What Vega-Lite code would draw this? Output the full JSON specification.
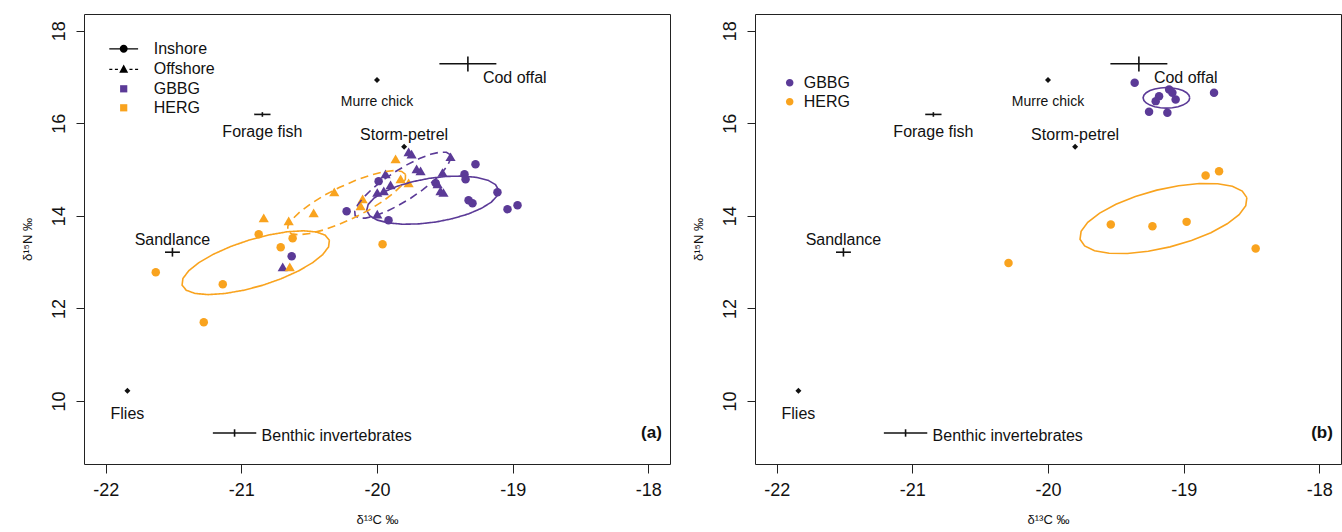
{
  "$schema": "https://vega.github.io/schema/vega-lite/v6.json",
  "background": "white",
  "padding": {"left": 20, "top": 13, "right": 2, "bottom": 4},
  "config": {
    "font": "Liberation Sans",
    "view": {"stroke": "#222", "strokeWidth": 1},
    "axis": {"grid": false, "domain": false, "ticks": true, "tickColor": "#222", "tickWidth": 1, "labelFont": "Liberation Sans", "labelFontSize": 18, "labelColor": "#111", "titleFont": "Liberation Sans", "titleFontSize": 13, "titleFontWeight": "normal", "titleColor": "#111", "labelPadding": 8, "labelFlush": false, "labelOverlap": false},
    "axisX": {"tickSize": 9, "titlePadding": 14},
    "axisY": {"tickSize": 8, "labelAngle": -90, "labelAlign": "center", "labelBaseline": "bottom", "titlePadding": 16},
    "legend": {"labelFont": "Liberation Sans", "labelFontSize": 16, "labelColor": "#111", "title": null, "padding": 0}
  },
  "spacing": 20,
  "resolve": {"scale": {"fill": "independent", "stroke": "independent", "shape": "independent", "strokeDash": "independent"}, "legend": {"fill": "independent", "shape": "independent"}},
  "datasets": {
    "birds": [
      {"panel": "a", "species": "GBBG", "habitat": "Inshore", "x": -19.274, "y": 15.117},
      {"panel": "a", "species": "GBBG", "habitat": "Inshore", "x": -19.355, "y": 14.901},
      {"panel": "a", "species": "GBBG", "habitat": "Inshore", "x": -19.347, "y": 14.793},
      {"panel": "a", "species": "GBBG", "habitat": "Inshore", "x": -19.112, "y": 14.51},
      {"panel": "a", "species": "GBBG", "habitat": "Inshore", "x": -19.325, "y": 14.339},
      {"panel": "a", "species": "GBBG", "habitat": "Inshore", "x": -19.296, "y": 14.274},
      {"panel": "a", "species": "GBBG", "habitat": "Inshore", "x": -19.038, "y": 14.144},
      {"panel": "a", "species": "GBBG", "habitat": "Inshore", "x": -18.964, "y": 14.231},
      {"panel": "a", "species": "GBBG", "habitat": "Inshore", "x": -19.568, "y": 14.707},
      {"panel": "a", "species": "GBBG", "habitat": "Inshore", "x": -20.224, "y": 14.101},
      {"panel": "a", "species": "GBBG", "habitat": "Inshore", "x": -19.915, "y": 13.906},
      {"panel": "a", "species": "GBBG", "habitat": "Inshore", "x": -19.988, "y": 14.75},
      {"panel": "a", "species": "GBBG", "habitat": "Inshore", "x": -20.629, "y": 13.128},
      {"panel": "a", "species": "GBBG", "habitat": "Offshore", "x": -19.767, "y": 15.376},
      {"panel": "a", "species": "GBBG", "habitat": "Offshore", "x": -19.745, "y": 15.326},
      {"panel": "a", "species": "GBBG", "habitat": "Offshore", "x": -19.458, "y": 15.27},
      {"panel": "a", "species": "GBBG", "habitat": "Offshore", "x": -19.708, "y": 15.009},
      {"panel": "a", "species": "GBBG", "habitat": "Offshore", "x": -19.679, "y": 14.966},
      {"panel": "a", "species": "GBBG", "habitat": "Offshore", "x": -19.517, "y": 14.93},
      {"panel": "a", "species": "GBBG", "habitat": "Offshore", "x": -19.937, "y": 14.901},
      {"panel": "a", "species": "GBBG", "habitat": "Offshore", "x": -19.9, "y": 14.663},
      {"panel": "a", "species": "GBBG", "habitat": "Offshore", "x": -19.95, "y": 14.533},
      {"panel": "a", "species": "GBBG", "habitat": "Offshore", "x": -19.998, "y": 14.497},
      {"panel": "a", "species": "GBBG", "habitat": "Offshore", "x": -19.553, "y": 14.685},
      {"panel": "a", "species": "GBBG", "habitat": "Offshore", "x": -19.532, "y": 14.533},
      {"panel": "a", "species": "GBBG", "habitat": "Offshore", "x": -19.51, "y": 14.497},
      {"panel": "a", "species": "GBBG", "habitat": "Offshore", "x": -19.998, "y": 14.03},
      {"panel": "a", "species": "GBBG", "habitat": "Offshore", "x": -20.695, "y": 12.891},
      {"panel": "a", "species": "HERG", "habitat": "Offshore", "x": -19.863, "y": 15.225},
      {"panel": "a", "species": "HERG", "habitat": "Offshore", "x": -19.826, "y": 14.793},
      {"panel": "a", "species": "HERG", "habitat": "Offshore", "x": -19.767, "y": 14.707},
      {"panel": "a", "species": "HERG", "habitat": "Offshore", "x": -20.315, "y": 14.51},
      {"panel": "a", "species": "HERG", "habitat": "Offshore", "x": -20.106, "y": 14.36},
      {"panel": "a", "species": "HERG", "habitat": "Offshore", "x": -20.121, "y": 14.209},
      {"panel": "a", "species": "HERG", "habitat": "Offshore", "x": -20.467, "y": 14.058},
      {"panel": "a", "species": "HERG", "habitat": "Offshore", "x": -20.835, "y": 13.95},
      {"panel": "a", "species": "HERG", "habitat": "Offshore", "x": -20.651, "y": 13.885},
      {"panel": "a", "species": "HERG", "habitat": "Offshore", "x": -20.643, "y": 12.891},
      {"panel": "a", "species": "HERG", "habitat": "Inshore", "x": -20.872, "y": 13.604},
      {"panel": "a", "species": "HERG", "habitat": "Inshore", "x": -20.622, "y": 13.517},
      {"panel": "a", "species": "HERG", "habitat": "Inshore", "x": -20.71, "y": 13.323},
      {"panel": "a", "species": "HERG", "habitat": "Inshore", "x": -21.137, "y": 12.524},
      {"panel": "a", "species": "HERG", "habitat": "Inshore", "x": -21.277, "y": 11.702},
      {"panel": "a", "species": "HERG", "habitat": "Inshore", "x": -21.631, "y": 12.783},
      {"panel": "a", "species": "HERG", "habitat": "Inshore", "x": -19.959, "y": 13.388},
      {"panel": "b", "species": "GBBG", "habitat": "All", "x": -19.361, "y": 16.873},
      {"panel": "b", "species": "GBBG", "habitat": "All", "x": -18.776, "y": 16.657},
      {"panel": "b", "species": "GBBG", "habitat": "All", "x": -19.107, "y": 16.73},
      {"panel": "b", "species": "GBBG", "habitat": "All", "x": -19.083, "y": 16.657},
      {"panel": "b", "species": "GBBG", "habitat": "All", "x": -19.059, "y": 16.515},
      {"panel": "b", "species": "GBBG", "habitat": "All", "x": -19.181, "y": 16.586},
      {"panel": "b", "species": "GBBG", "habitat": "All", "x": -19.206, "y": 16.478},
      {"panel": "b", "species": "GBBG", "habitat": "All", "x": -19.255, "y": 16.247},
      {"panel": "b", "species": "GBBG", "habitat": "All", "x": -19.12, "y": 16.225},
      {"panel": "b", "species": "HERG", "habitat": "All", "x": -18.838, "y": 14.873},
      {"panel": "b", "species": "HERG", "habitat": "All", "x": -18.739, "y": 14.965},
      {"panel": "b", "species": "HERG", "habitat": "All", "x": -19.537, "y": 13.814},
      {"panel": "b", "species": "HERG", "habitat": "All", "x": -19.23, "y": 13.777},
      {"panel": "b", "species": "HERG", "habitat": "All", "x": -18.978, "y": 13.87},
      {"panel": "b", "species": "HERG", "habitat": "All", "x": -18.469, "y": 13.295},
      {"panel": "b", "species": "HERG", "habitat": "All", "x": -20.291, "y": 12.984}
    ],
    "ellipses": [
      {"panel": "a", "species": "GBBG", "habitat": "Inshore", "group": "aGI", "i": 0, "x": -19.104, "y": 14.562},
      {"panel": "a", "species": "GBBG", "habitat": "Inshore", "group": "aGI", "i": 1, "x": -19.127, "y": 14.677},
      {"panel": "a", "species": "GBBG", "habitat": "Inshore", "group": "aGI", "i": 2, "x": -19.181, "y": 14.768},
      {"panel": "a", "species": "GBBG", "habitat": "Inshore", "group": "aGI", "i": 3, "x": -19.264, "y": 14.83},
      {"panel": "a", "species": "GBBG", "habitat": "Inshore", "group": "aGI", "i": 4, "x": -19.368, "y": 14.859},
      {"panel": "a", "species": "GBBG", "habitat": "Inshore", "group": "aGI", "i": 5, "x": -19.487, "y": 14.852},
      {"panel": "a", "species": "GBBG", "habitat": "Inshore", "group": "aGI", "i": 6, "x": -19.614, "y": 14.811},
      {"panel": "a", "species": "GBBG", "habitat": "Inshore", "group": "aGI", "i": 7, "x": -19.739, "y": 14.737},
      {"panel": "a", "species": "GBBG", "habitat": "Inshore", "group": "aGI", "i": 8, "x": -19.854, "y": 14.636},
      {"panel": "a", "species": "GBBG", "habitat": "Inshore", "group": "aGI", "i": 9, "x": -19.95, "y": 14.515},
      {"panel": "a", "species": "GBBG", "habitat": "Inshore", "group": "aGI", "i": 10, "x": -20.023, "y": 14.382},
      {"panel": "a", "species": "GBBG", "habitat": "Inshore", "group": "aGI", "i": 11, "x": -20.065, "y": 14.246},
      {"panel": "a", "species": "GBBG", "habitat": "Inshore", "group": "aGI", "i": 12, "x": -20.076, "y": 14.116},
      {"panel": "a", "species": "GBBG", "habitat": "Inshore", "group": "aGI", "i": 13, "x": -20.053, "y": 14.001},
      {"panel": "a", "species": "GBBG", "habitat": "Inshore", "group": "aGI", "i": 14, "x": -19.999, "y": 13.91},
      {"panel": "a", "species": "GBBG", "habitat": "Inshore", "group": "aGI", "i": 15, "x": -19.917, "y": 13.848},
      {"panel": "a", "species": "GBBG", "habitat": "Inshore", "group": "aGI", "i": 16, "x": -19.812, "y": 13.819},
      {"panel": "a", "species": "GBBG", "habitat": "Inshore", "group": "aGI", "i": 17, "x": -19.693, "y": 13.826},
      {"panel": "a", "species": "GBBG", "habitat": "Inshore", "group": "aGI", "i": 18, "x": -19.566, "y": 13.867},
      {"panel": "a", "species": "GBBG", "habitat": "Inshore", "group": "aGI", "i": 19, "x": -19.441, "y": 13.941},
      {"panel": "a", "species": "GBBG", "habitat": "Inshore", "group": "aGI", "i": 20, "x": -19.326, "y": 14.042},
      {"panel": "a", "species": "GBBG", "habitat": "Inshore", "group": "aGI", "i": 21, "x": -19.23, "y": 14.163},
      {"panel": "a", "species": "GBBG", "habitat": "Inshore", "group": "aGI", "i": 22, "x": -19.157, "y": 14.296},
      {"panel": "a", "species": "GBBG", "habitat": "Inshore", "group": "aGI", "i": 23, "x": -19.115, "y": 14.432},
      {"panel": "a", "species": "GBBG", "habitat": "Inshore", "group": "aGI", "i": 24, "x": -19.104, "y": 14.562},
      {"panel": "a", "species": "GBBG", "habitat": "Offshore", "group": "aGO", "i": 0, "x": -19.461, "y": 15.322},
      {"panel": "a", "species": "GBBG", "habitat": "Offshore", "group": "aGO", "i": 1, "x": -19.488, "y": 15.373},
      {"panel": "a", "species": "GBBG", "habitat": "Offshore", "group": "aGO", "i": 2, "x": -19.537, "y": 15.375},
      {"panel": "a", "species": "GBBG", "habitat": "Offshore", "group": "aGO", "i": 3, "x": -19.605, "y": 15.329},
      {"panel": "a", "species": "GBBG", "habitat": "Offshore", "group": "aGO", "i": 4, "x": -19.687, "y": 15.237},
      {"panel": "a", "species": "GBBG", "habitat": "Offshore", "group": "aGO", "i": 5, "x": -19.777, "y": 15.106},
      {"panel": "a", "species": "GBBG", "habitat": "Offshore", "group": "aGO", "i": 6, "x": -19.87, "y": 14.945},
      {"panel": "a", "species": "GBBG", "habitat": "Offshore", "group": "aGO", "i": 7, "x": -19.958, "y": 14.765},
      {"panel": "a", "species": "GBBG", "habitat": "Offshore", "group": "aGO", "i": 8, "x": -20.037, "y": 14.578},
      {"panel": "a", "species": "GBBG", "habitat": "Offshore", "group": "aGO", "i": 9, "x": -20.1, "y": 14.397},
      {"panel": "a", "species": "GBBG", "habitat": "Offshore", "group": "aGO", "i": 10, "x": -20.143, "y": 14.234},
      {"panel": "a", "species": "GBBG", "habitat": "Offshore", "group": "aGO", "i": 11, "x": -20.164, "y": 14.1},
      {"panel": "a", "species": "GBBG", "habitat": "Offshore", "group": "aGO", "i": 12, "x": -20.161, "y": 14.004},
      {"panel": "a", "species": "GBBG", "habitat": "Offshore", "group": "aGO", "i": 13, "x": -20.134, "y": 13.953},
      {"panel": "a", "species": "GBBG", "habitat": "Offshore", "group": "aGO", "i": 14, "x": -20.085, "y": 13.951},
      {"panel": "a", "species": "GBBG", "habitat": "Offshore", "group": "aGO", "i": 15, "x": -20.017, "y": 13.997},
      {"panel": "a", "species": "GBBG", "habitat": "Offshore", "group": "aGO", "i": 16, "x": -19.935, "y": 14.089},
      {"panel": "a", "species": "GBBG", "habitat": "Offshore", "group": "aGO", "i": 17, "x": -19.845, "y": 14.22},
      {"panel": "a", "species": "GBBG", "habitat": "Offshore", "group": "aGO", "i": 18, "x": -19.752, "y": 14.381},
      {"panel": "a", "species": "GBBG", "habitat": "Offshore", "group": "aGO", "i": 19, "x": -19.664, "y": 14.561},
      {"panel": "a", "species": "GBBG", "habitat": "Offshore", "group": "aGO", "i": 20, "x": -19.585, "y": 14.748},
      {"panel": "a", "species": "GBBG", "habitat": "Offshore", "group": "aGO", "i": 21, "x": -19.522, "y": 14.929},
      {"panel": "a", "species": "GBBG", "habitat": "Offshore", "group": "aGO", "i": 22, "x": -19.479, "y": 15.092},
      {"panel": "a", "species": "GBBG", "habitat": "Offshore", "group": "aGO", "i": 23, "x": -19.458, "y": 15.226},
      {"panel": "a", "species": "GBBG", "habitat": "Offshore", "group": "aGO", "i": 24, "x": -19.461, "y": 15.322},
      {"panel": "a", "species": "HERG", "habitat": "Inshore", "group": "aHI", "i": 0, "x": -20.351, "y": 13.473},
      {"panel": "a", "species": "HERG", "habitat": "Inshore", "group": "aHI", "i": 1, "x": -20.382, "y": 13.583},
      {"panel": "a", "species": "HERG", "habitat": "Inshore", "group": "aHI", "i": 2, "x": -20.448, "y": 13.653},
      {"panel": "a", "species": "HERG", "habitat": "Inshore", "group": "aHI", "i": 3, "x": -20.544, "y": 13.677},
      {"panel": "a", "species": "HERG", "habitat": "Inshore", "group": "aHI", "i": 4, "x": -20.664, "y": 13.655},
      {"panel": "a", "species": "HERG", "habitat": "Inshore", "group": "aHI", "i": 5, "x": -20.8, "y": 13.586},
      {"panel": "a", "species": "HERG", "habitat": "Inshore", "group": "aHI", "i": 6, "x": -20.942, "y": 13.478},
      {"panel": "a", "species": "HERG", "habitat": "Inshore", "group": "aHI", "i": 7, "x": -21.081, "y": 13.335},
      {"panel": "a", "species": "HERG", "habitat": "Inshore", "group": "aHI", "i": 8, "x": -21.207, "y": 13.17},
      {"panel": "a", "species": "HERG", "habitat": "Inshore", "group": "aHI", "i": 9, "x": -21.312, "y": 12.991},
      {"panel": "a", "species": "HERG", "habitat": "Inshore", "group": "aHI", "i": 10, "x": -21.388, "y": 12.813},
      {"panel": "a", "species": "HERG", "habitat": "Inshore", "group": "aHI", "i": 11, "x": -21.431, "y": 12.646},
      {"panel": "a", "species": "HERG", "habitat": "Inshore", "group": "aHI", "i": 12, "x": -21.437, "y": 12.503},
      {"panel": "a", "species": "HERG", "habitat": "Inshore", "group": "aHI", "i": 13, "x": -21.406, "y": 12.393},
      {"panel": "a", "species": "HERG", "habitat": "Inshore", "group": "aHI", "i": 14, "x": -21.34, "y": 12.323},
      {"panel": "a", "species": "HERG", "habitat": "Inshore", "group": "aHI", "i": 15, "x": -21.244, "y": 12.299},
      {"panel": "a", "species": "HERG", "habitat": "Inshore", "group": "aHI", "i": 16, "x": -21.124, "y": 12.322},
      {"panel": "a", "species": "HERG", "habitat": "Inshore", "group": "aHI", "i": 17, "x": -20.988, "y": 12.39},
      {"panel": "a", "species": "HERG", "habitat": "Inshore", "group": "aHI", "i": 18, "x": -20.846, "y": 12.498},
      {"panel": "a", "species": "HERG", "habitat": "Inshore", "group": "aHI", "i": 19, "x": -20.707, "y": 12.641},
      {"panel": "a", "species": "HERG", "habitat": "Inshore", "group": "aHI", "i": 20, "x": -20.581, "y": 12.807},
      {"panel": "a", "species": "HERG", "habitat": "Inshore", "group": "aHI", "i": 21, "x": -20.476, "y": 12.985},
      {"panel": "a", "species": "HERG", "habitat": "Inshore", "group": "aHI", "i": 22, "x": -20.4, "y": 13.163},
      {"panel": "a", "species": "HERG", "habitat": "Inshore", "group": "aHI", "i": 23, "x": -20.357, "y": 13.33},
      {"panel": "a", "species": "HERG", "habitat": "Inshore", "group": "aHI", "i": 24, "x": -20.351, "y": 13.473},
      {"panel": "a", "species": "HERG", "habitat": "Offshore", "group": "aHO", "i": 0, "x": -19.79, "y": 14.895},
      {"panel": "a", "species": "HERG", "habitat": "Offshore", "group": "aHO", "i": 1, "x": -19.818, "y": 14.96},
      {"panel": "a", "species": "HERG", "habitat": "Offshore", "group": "aHO", "i": 2, "x": -19.874, "y": 14.979},
      {"panel": "a", "species": "HERG", "habitat": "Offshore", "group": "aHO", "i": 3, "x": -19.953, "y": 14.951},
      {"panel": "a", "species": "HERG", "habitat": "Offshore", "group": "aHO", "i": 4, "x": -20.051, "y": 14.877},
      {"panel": "a", "species": "HERG", "habitat": "Offshore", "group": "aHO", "i": 5, "x": -20.161, "y": 14.763},
      {"panel": "a", "species": "HERG", "habitat": "Offshore", "group": "aHO", "i": 6, "x": -20.275, "y": 14.617},
      {"panel": "a", "species": "HERG", "habitat": "Offshore", "group": "aHO", "i": 7, "x": -20.386, "y": 14.448},
      {"panel": "a", "species": "HERG", "habitat": "Offshore", "group": "aHO", "i": 8, "x": -20.485, "y": 14.267},
      {"panel": "a", "species": "HERG", "habitat": "Offshore", "group": "aHO", "i": 9, "x": -20.567, "y": 14.088},
      {"panel": "a", "species": "HERG", "habitat": "Offshore", "group": "aHO", "i": 10, "x": -20.626, "y": 13.923},
      {"panel": "a", "species": "HERG", "habitat": "Offshore", "group": "aHO", "i": 11, "x": -20.657, "y": 13.782},
      {"panel": "a", "species": "HERG", "habitat": "Offshore", "group": "aHO", "i": 12, "x": -20.658, "y": 13.675},
      {"panel": "a", "species": "HERG", "habitat": "Offshore", "group": "aHO", "i": 13, "x": -20.63, "y": 13.61},
      {"panel": "a", "species": "HERG", "habitat": "Offshore", "group": "aHO", "i": 14, "x": -20.574, "y": 13.591},
      {"panel": "a", "species": "HERG", "habitat": "Offshore", "group": "aHO", "i": 15, "x": -20.495, "y": 13.619},
      {"panel": "a", "species": "HERG", "habitat": "Offshore", "group": "aHO", "i": 16, "x": -20.397, "y": 13.693},
      {"panel": "a", "species": "HERG", "habitat": "Offshore", "group": "aHO", "i": 17, "x": -20.287, "y": 13.807},
      {"panel": "a", "species": "HERG", "habitat": "Offshore", "group": "aHO", "i": 18, "x": -20.173, "y": 13.953},
      {"panel": "a", "species": "HERG", "habitat": "Offshore", "group": "aHO", "i": 19, "x": -20.062, "y": 14.122},
      {"panel": "a", "species": "HERG", "habitat": "Offshore", "group": "aHO", "i": 20, "x": -19.963, "y": 14.303},
      {"panel": "a", "species": "HERG", "habitat": "Offshore", "group": "aHO", "i": 21, "x": -19.881, "y": 14.482},
      {"panel": "a", "species": "HERG", "habitat": "Offshore", "group": "aHO", "i": 22, "x": -19.822, "y": 14.647},
      {"panel": "a", "species": "HERG", "habitat": "Offshore", "group": "aHO", "i": 23, "x": -19.791, "y": 14.788},
      {"panel": "a", "species": "HERG", "habitat": "Offshore", "group": "aHO", "i": 24, "x": -19.79, "y": 14.895},
      {"panel": "b", "species": "GBBG", "habitat": "All", "group": "bG", "i": 0, "x": -18.955, "y": 16.549},
      {"panel": "b", "species": "GBBG", "habitat": "All", "group": "bG", "i": 1, "x": -18.961, "y": 16.606},
      {"panel": "b", "species": "GBBG", "habitat": "All", "group": "bG", "i": 2, "x": -18.978, "y": 16.66},
      {"panel": "b", "species": "GBBG", "habitat": "All", "group": "bG", "i": 3, "x": -19.006, "y": 16.706},
      {"panel": "b", "species": "GBBG", "habitat": "All", "group": "bG", "i": 4, "x": -19.041, "y": 16.741},
      {"panel": "b", "species": "GBBG", "habitat": "All", "group": "bG", "i": 5, "x": -19.083, "y": 16.763},
      {"panel": "b", "species": "GBBG", "habitat": "All", "group": "bG", "i": 6, "x": -19.127, "y": 16.771},
      {"panel": "b", "species": "GBBG", "habitat": "All", "group": "bG", "i": 7, "x": -19.171, "y": 16.763},
      {"panel": "b", "species": "GBBG", "habitat": "All", "group": "bG", "i": 8, "x": -19.213, "y": 16.741},
      {"panel": "b", "species": "GBBG", "habitat": "All", "group": "bG", "i": 9, "x": -19.248, "y": 16.706},
      {"panel": "b", "species": "GBBG", "habitat": "All", "group": "bG", "i": 10, "x": -19.276, "y": 16.66},
      {"panel": "b", "species": "GBBG", "habitat": "All", "group": "bG", "i": 11, "x": -19.293, "y": 16.606},
      {"panel": "b", "species": "GBBG", "habitat": "All", "group": "bG", "i": 12, "x": -19.299, "y": 16.549},
      {"panel": "b", "species": "GBBG", "habitat": "All", "group": "bG", "i": 13, "x": -19.293, "y": 16.492},
      {"panel": "b", "species": "GBBG", "habitat": "All", "group": "bG", "i": 14, "x": -19.276, "y": 16.438},
      {"panel": "b", "species": "GBBG", "habitat": "All", "group": "bG", "i": 15, "x": -19.248, "y": 16.392},
      {"panel": "b", "species": "GBBG", "habitat": "All", "group": "bG", "i": 16, "x": -19.213, "y": 16.357},
      {"panel": "b", "species": "GBBG", "habitat": "All", "group": "bG", "i": 17, "x": -19.171, "y": 16.335},
      {"panel": "b", "species": "GBBG", "habitat": "All", "group": "bG", "i": 18, "x": -19.127, "y": 16.327},
      {"panel": "b", "species": "GBBG", "habitat": "All", "group": "bG", "i": 19, "x": -19.083, "y": 16.335},
      {"panel": "b", "species": "GBBG", "habitat": "All", "group": "bG", "i": 20, "x": -19.041, "y": 16.357},
      {"panel": "b", "species": "GBBG", "habitat": "All", "group": "bG", "i": 21, "x": -19.006, "y": 16.392},
      {"panel": "b", "species": "GBBG", "habitat": "All", "group": "bG", "i": 22, "x": -18.978, "y": 16.438},
      {"panel": "b", "species": "GBBG", "habitat": "All", "group": "bG", "i": 23, "x": -18.961, "y": 16.492},
      {"panel": "b", "species": "GBBG", "habitat": "All", "group": "bG", "i": 24, "x": -18.955, "y": 16.549},
      {"panel": "b", "species": "HERG", "habitat": "All", "group": "bH", "i": 0, "x": -18.534, "y": 14.393},
      {"panel": "b", "species": "HERG", "habitat": "All", "group": "bH", "i": 1, "x": -18.568, "y": 14.536},
      {"panel": "b", "species": "HERG", "habitat": "All", "group": "bH", "i": 2, "x": -18.641, "y": 14.639},
      {"panel": "b", "species": "HERG", "habitat": "All", "group": "bH", "i": 3, "x": -18.749, "y": 14.694},
      {"panel": "b", "species": "HERG", "habitat": "All", "group": "bH", "i": 4, "x": -18.884, "y": 14.699},
      {"panel": "b", "species": "HERG", "habitat": "All", "group": "bH", "i": 5, "x": -19.037, "y": 14.651},
      {"panel": "b", "species": "HERG", "habitat": "All", "group": "bH", "i": 6, "x": -19.198, "y": 14.556},
      {"panel": "b", "species": "HERG", "habitat": "All", "group": "bH", "i": 7, "x": -19.356, "y": 14.419},
      {"panel": "b", "species": "HERG", "habitat": "All", "group": "bH", "i": 8, "x": -19.499, "y": 14.249},
      {"panel": "b", "species": "HERG", "habitat": "All", "group": "bH", "i": 9, "x": -19.619, "y": 14.058},
      {"panel": "b", "species": "HERG", "habitat": "All", "group": "bH", "i": 10, "x": -19.707, "y": 13.86},
      {"panel": "b", "species": "HERG", "habitat": "All", "group": "bH", "i": 11, "x": -19.756, "y": 13.667},
      {"panel": "b", "species": "HERG", "habitat": "All", "group": "bH", "i": 12, "x": -19.764, "y": 13.493},
      {"panel": "b", "species": "HERG", "habitat": "All", "group": "bH", "i": 13, "x": -19.73, "y": 13.35},
      {"panel": "b", "species": "HERG", "habitat": "All", "group": "bH", "i": 14, "x": -19.657, "y": 13.247},
      {"panel": "b", "species": "HERG", "habitat": "All", "group": "bH", "i": 15, "x": -19.549, "y": 13.192},
      {"panel": "b", "species": "HERG", "habitat": "All", "group": "bH", "i": 16, "x": -19.414, "y": 13.187},
      {"panel": "b", "species": "HERG", "habitat": "All", "group": "bH", "i": 17, "x": -19.261, "y": 13.235},
      {"panel": "b", "species": "HERG", "habitat": "All", "group": "bH", "i": 18, "x": -19.1, "y": 13.33},
      {"panel": "b", "species": "HERG", "habitat": "All", "group": "bH", "i": 19, "x": -18.942, "y": 13.468},
      {"panel": "b", "species": "HERG", "habitat": "All", "group": "bH", "i": 20, "x": -18.799, "y": 13.637},
      {"panel": "b", "species": "HERG", "habitat": "All", "group": "bH", "i": 21, "x": -18.679, "y": 13.828},
      {"panel": "b", "species": "HERG", "habitat": "All", "group": "bH", "i": 22, "x": -18.591, "y": 14.026},
      {"panel": "b", "species": "HERG", "habitat": "All", "group": "bH", "i": 23, "x": -18.542, "y": 14.219},
      {"panel": "b", "species": "HERG", "habitat": "All", "group": "bH", "i": 24, "x": -18.534, "y": 14.393}
    ],
    "prey": [
      {"source": "Cod offal", "x": -19.33, "y": 17.284, "xlo": -19.54, "xhi": -19.12, "ylo": 17.12, "yhi": 17.44},
      {"source": "Murre chick", "x": -20.0, "y": 16.932},
      {"source": "Forage fish", "x": -20.845, "y": 16.191, "xlo": -20.905, "xhi": -20.785, "ylo": 16.14, "yhi": 16.24},
      {"source": "Storm-petrel", "x": -19.8, "y": 15.491},
      {"source": "Sandlance", "x": -21.508, "y": 13.215, "xlo": -21.563, "xhi": -21.453, "ylo": 13.12, "yhi": 13.31},
      {"source": "Flies", "x": -21.84, "y": 10.22},
      {"source": "Benthic invertebrates", "x": -21.05, "y": 9.31, "xlo": -21.21, "xhi": -20.89, "ylo": 9.23, "yhi": 9.39}
    ],
    "panels": [
      {"panel": "a", "label": "(a)"},
      {"panel": "b", "label": "(b)"}
    ]
  },
  "hconcat": [
    {
      "width": 586,
      "height": 450,
      "layer": [
        {
          "encoding": {
            "x": {"field": "x", "type": "quantitative", "title": "δ¹³C ‰", "scale": {"domain": [-22.16, -17.84], "nice": false, "zero": false}, "axis": {"values": [-22, -21, -20, -19, -18], "labelExpr": "'-' + abs(datum.value)"}},
            "y": {"field": "y", "type": "quantitative", "title": "δ¹⁵N ‰", "scale": {"domain": [8.64, 18.36], "nice": false, "zero": false}, "axis": {"values": [10, 12, 14, 16, 18]}}
          },
          "resolve": {"scale": {"shape": "independent", "strokeDash": "independent"}, "legend": {"shape": "independent", "strokeDash": "independent"}},
          "layer": [
            {
              "data": {"name": "birds"},
              "transform": [{"filter": "datum.panel === 'a'"}],
              "mark": {"type": "point", "filled": true, "opacity": 1, "strokeWidth": 0, "size": 72},
              "encoding": {
                "fill": {"field": "species", "type": "nominal", "scale": {"range": ["#5B3A97", "#F9A31E"]},
                  "legend": {"orient": "none", "legendX": 31.7, "legendY": 66.8, "symbolType": "M-0.45,-0.45H0.45V0.45H-0.45Z", "symbolSize": 256, "symbolStrokeWidth": 0, "symbolOpacity": 1, "labelOffset": 22, "rowPadding": 3}},
                "shape": {"field": "habitat", "type": "nominal", "scale": {"range": ["circle", "M0,-1.1L1.2,0.95L-1.2,0.95Z"]}, "legend": null}
              }
            },
            {
              "data": {"name": "birds"},
              "transform": [{"filter": "datum.panel === 'a'"}],
              "mark": {"type": "point", "filled": true, "color": "black", "opacity": 0, "size": 256},
              "encoding": {
                "shape": {"field": "habitat", "type": "nominal",
                  "scale": {"range": [
                    "M-1.8,-0.08H1.8V0.08H-1.8Z M-0.5,0A0.5,0.5 0 1,1 0.5,0A0.5,0.5 0 1,1 -0.5,0Z",
                    "M-1.8,-0.08H-1.42V0.08H-1.8Z M-1.1,-0.08H-0.72V0.08H-1.1Z M0.72,-0.08H1.1V0.08H0.72Z M1.42,-0.08H1.8V0.08H1.42Z M0,-0.6L0.56,0.42L-0.56,0.42Z"
                  ]},
                  "legend": {"orient": "none", "legendX": 31.7, "legendY": 26.8, "symbolSize": 256, "symbolOpacity": 1, "symbolFillColor": "black", "symbolStrokeWidth": 0, "labelOffset": 22, "rowPadding": 4.6}}
              }
            },
            {
              "data": {"name": "ellipses"},
              "transform": [{"filter": "datum.panel === 'a'"}],
              "mark": {"type": "line", "strokeWidth": 1.6},
              "encoding": {
                "order": {"field": "i", "type": "quantitative"},
                "detail": {"field": "group", "type": "nominal"},
                "stroke": {"field": "species", "type": "nominal", "scale": {"range": ["#5B3A97", "#F9A31E"]}, "legend": null},
                "strokeDash": {"field": "habitat", "type": "nominal", "scale": {"range": [[1, 0], [8, 5]]}, "legend": null}
              }
            },
            {
              "data": {"name": "prey"},
              "transform": [{"filter": "isValid(datum.xlo)"}],
              "mark": {"type": "rule", "color": "#111", "strokeWidth": 1.6},
              "encoding": {"x": {"field": "xlo"}, "x2": {"field": "xhi"}}
            },
            {
              "data": {"name": "prey"},
              "transform": [{"filter": "isValid(datum.ylo)"}],
              "mark": {"type": "rule", "color": "#111", "strokeWidth": 1.6},
              "encoding": {"y": {"field": "ylo"}, "y2": {"field": "yhi"}}
            },
            {
              "data": {"name": "prey"},
              "transform": [{"filter": {"field": "source", "oneOf": ["Murre chick", "Storm-petrel", "Flies"]}}],
              "mark": {"type": "point", "shape": "diamond", "filled": true, "color": "#111", "size": 36, "opacity": 1}
            },
            {
              "data": {"name": "prey"},
              "transform": [{"filter": {"field": "source", "equal": "Cod offal"}}],
              "mark": {"type": "text", "align": "left", "baseline": "middle", "dx": 15, "dy": 14, "fontSize": 16, "color": "#111"},
              "encoding": {"text": {"field": "source"}}
            },
            {
              "data": {"name": "prey"},
              "transform": [{"filter": {"field": "source", "equal": "Benthic invertebrates"}}],
              "mark": {"type": "text", "align": "left", "baseline": "middle", "dx": 27, "dy": 3, "fontSize": 16, "color": "#111"},
              "encoding": {"text": {"field": "source"}}
            },
            {
              "data": {"name": "prey"},
              "transform": [{"filter": {"field": "source", "equal": "Murre chick"}}],
              "mark": {"type": "text", "align": "center", "baseline": "middle", "dy": 22, "fontSize": 14, "color": "#111"},
              "encoding": {"text": {"field": "source"}}
            },
            {
              "data": {"name": "prey"},
              "transform": [{"filter": {"field": "source", "equal": "Forage fish"}}],
              "mark": {"type": "text", "align": "center", "baseline": "middle", "dy": 18, "fontSize": 16, "color": "#111"},
              "encoding": {"text": {"field": "source"}}
            },
            {
              "data": {"name": "prey"},
              "transform": [{"filter": {"field": "source", "equal": "Flies"}}],
              "mark": {"type": "text", "align": "center", "baseline": "middle", "dy": 23, "fontSize": 16, "color": "#111"},
              "encoding": {"text": {"field": "source"}}
            },
            {
              "data": {"name": "prey"},
              "transform": [{"filter": {"field": "source", "oneOf": ["Storm-petrel", "Sandlance"]}}],
              "mark": {"type": "text", "align": "center", "baseline": "middle", "dy": -12, "fontSize": 16, "color": "#111"},
              "encoding": {"text": {"field": "source"}}
            }
          ]
        },
        {
          "data": {"name": "panels"},
          "transform": [{"filter": "datum.panel === 'a'"}],
          "mark": {"type": "text", "align": "right", "baseline": "middle", "fontSize": 17, "fontWeight": "bold", "color": "#111"},
          "encoding": {
            "x": {"datum": -17.9, "type": "quantitative", "scale": {"domain": [-22.16, -17.84], "nice": false, "zero": false}},
            "y": {"datum": 9.3, "type": "quantitative", "scale": {"domain": [8.64, 18.36], "nice": false, "zero": false}},
            "text": {"field": "label"}
          }
        }
      ]
    },
    {
      "width": 586,
      "height": 450,
      "layer": [
        {
          "encoding": {
            "x": {"field": "x", "type": "quantitative", "title": "δ¹³C ‰", "scale": {"domain": [-22.16, -17.84], "nice": false, "zero": false}, "axis": {"values": [-22, -21, -20, -19, -18], "labelExpr": "'-' + abs(datum.value)"}},
            "y": {"field": "y", "type": "quantitative", "title": "δ¹⁵N ‰", "scale": {"domain": [8.64, 18.36], "nice": false, "zero": false}, "axis": {"values": [10, 12, 14, 16, 18]}}
          },
          "layer": [
            {
              "data": {"name": "birds"},
              "transform": [{"filter": "datum.panel === 'b'"}],
              "mark": {"type": "point", "shape": "circle", "filled": true, "opacity": 1, "strokeWidth": 0, "size": 72},
              "encoding": {
                "fill": {"field": "species", "type": "nominal", "scale": {"range": ["#5B3A97", "#F9A31E"]},
                  "legend": {"orient": "none", "legendX": 26.7, "legendY": 60.8, "symbolType": "M-0.47,0A0.47,0.47 0 1,1 0.47,0A0.47,0.47 0 1,1 -0.47,0Z", "symbolSize": 256, "symbolStrokeWidth": 0, "symbolOpacity": 1, "labelOffset": 6, "rowPadding": 3}}
              }
            },
            {
              "data": {"name": "ellipses"},
              "transform": [{"filter": "datum.panel === 'b'"}],
              "mark": {"type": "line", "strokeWidth": 1.6},
              "encoding": {
                "order": {"field": "i", "type": "quantitative"},
                "detail": {"field": "group", "type": "nominal"},
                "stroke": {"field": "species", "type": "nominal", "scale": {"range": ["#5B3A97", "#F9A31E"]}, "legend": null}
              }
            },
            {
              "data": {"name": "prey"},
              "transform": [{"filter": "isValid(datum.xlo)"}],
              "mark": {"type": "rule", "color": "#111", "strokeWidth": 1.6},
              "encoding": {"x": {"field": "xlo"}, "x2": {"field": "xhi"}}
            },
            {
              "data": {"name": "prey"},
              "transform": [{"filter": "isValid(datum.ylo)"}],
              "mark": {"type": "rule", "color": "#111", "strokeWidth": 1.6},
              "encoding": {"y": {"field": "ylo"}, "y2": {"field": "yhi"}}
            },
            {
              "data": {"name": "prey"},
              "transform": [{"filter": {"field": "source", "oneOf": ["Murre chick", "Storm-petrel", "Flies"]}}],
              "mark": {"type": "point", "shape": "diamond", "filled": true, "color": "#111", "size": 36, "opacity": 1}
            },
            {
              "data": {"name": "prey"},
              "transform": [{"filter": {"field": "source", "equal": "Cod offal"}}],
              "mark": {"type": "text", "align": "left", "baseline": "middle", "dx": 15, "dy": 14, "fontSize": 16, "color": "#111"},
              "encoding": {"text": {"field": "source"}}
            },
            {
              "data": {"name": "prey"},
              "transform": [{"filter": {"field": "source", "equal": "Benthic invertebrates"}}],
              "mark": {"type": "text", "align": "left", "baseline": "middle", "dx": 27, "dy": 3, "fontSize": 16, "color": "#111"},
              "encoding": {"text": {"field": "source"}}
            },
            {
              "data": {"name": "prey"},
              "transform": [{"filter": {"field": "source", "equal": "Murre chick"}}],
              "mark": {"type": "text", "align": "center", "baseline": "middle", "dy": 22, "fontSize": 14, "color": "#111"},
              "encoding": {"text": {"field": "source"}}
            },
            {
              "data": {"name": "prey"},
              "transform": [{"filter": {"field": "source", "equal": "Forage fish"}}],
              "mark": {"type": "text", "align": "center", "baseline": "middle", "dy": 18, "fontSize": 16, "color": "#111"},
              "encoding": {"text": {"field": "source"}}
            },
            {
              "data": {"name": "prey"},
              "transform": [{"filter": {"field": "source", "equal": "Flies"}}],
              "mark": {"type": "text", "align": "center", "baseline": "middle", "dy": 23, "fontSize": 16, "color": "#111"},
              "encoding": {"text": {"field": "source"}}
            },
            {
              "data": {"name": "prey"},
              "transform": [{"filter": {"field": "source", "oneOf": ["Storm-petrel", "Sandlance"]}}],
              "mark": {"type": "text", "align": "center", "baseline": "middle", "dy": -12, "fontSize": 16, "color": "#111"},
              "encoding": {"text": {"field": "source"}}
            }
          ]
        },
        {
          "data": {"name": "panels"},
          "transform": [{"filter": "datum.panel === 'b'"}],
          "mark": {"type": "text", "align": "right", "baseline": "middle", "fontSize": 17, "fontWeight": "bold", "color": "#111"},
          "encoding": {
            "x": {"datum": -17.9, "type": "quantitative", "scale": {"domain": [-22.16, -17.84], "nice": false, "zero": false}},
            "y": {"datum": 9.3, "type": "quantitative", "scale": {"domain": [8.64, 18.36], "nice": false, "zero": false}},
            "text": {"field": "label"}
          }
        }
      ]
    }
  ]
}
